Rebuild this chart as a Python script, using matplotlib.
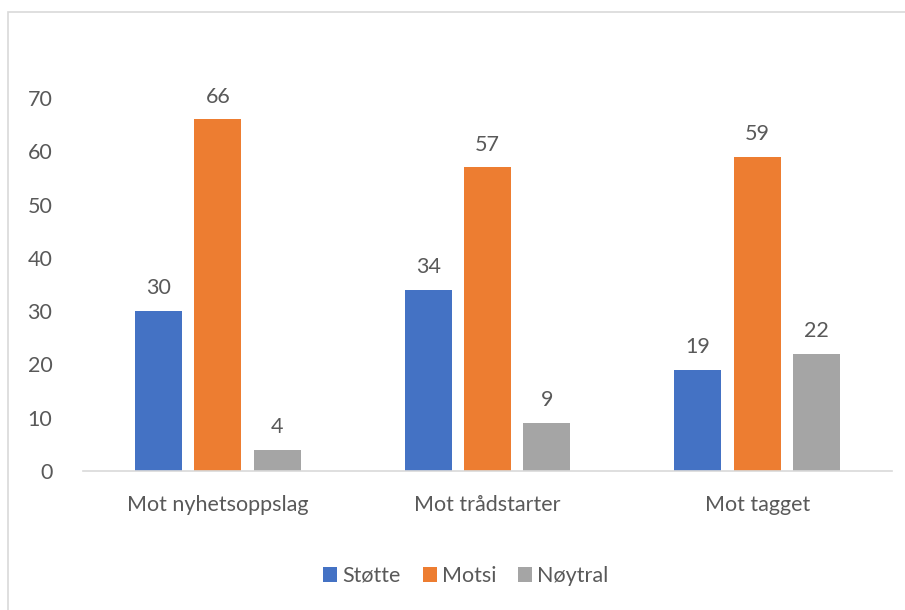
import matplotlib.pyplot as plt
import numpy as np
from matplotlib.patches import Rectangle

categories = ['Mot nyhetsoppslag', 'Mot trådstarter', 'Mot tagget']
series = ['Støtte', 'Motsi', 'Nøytral']
stotte = [30, 34, 19]
motsi = [66, 57, 59]
noytral = [4, 9, 22]
colors = ['#4472C4', '#ED7D31', '#A5A5A5']

plt.rcParams['font.family'] = ['Lato', 'DejaVu Sans']
text_color = '#595959'
fs = 15.5

fig = plt.figure(figsize=(9.05, 6.1), dpi=100)
ax = fig.add_axes([0.0917, 0.2279, 0.8939, 0.6114])

# chart frame
fig.patches.append(Rectangle((8 / 905, -0.1), 1.2, 1 - 12 / 610 + 0.1,
                             transform=fig.transFigure, fill=False,
                             edgecolor='#d9d9d9', linewidth=1.2))

x = np.arange(len(categories))
width = 0.174
step = 0.22
for i, (name, vals) in enumerate(zip(series, [stotte, motsi, noytral])):
    bars = ax.bar(x + (i - 1) * step, vals, width, color=colors[i], label=name)
    for b, v in zip(bars, vals):
        ax.text(b.get_x() + b.get_width() / 2, v + 2.4, str(v), ha='center',
                va='bottom', fontsize=fs, color=text_color, clip_on=False)

ax.set_xlim(-0.5, 2.5)
ax.set_ylim(0, 70)
ax.set_yticks(range(0, 71, 10))
ax.set_xticks(x)
ax.set_xticklabels(categories)
ax.tick_params(axis='both', length=0, labelsize=fs, labelcolor=text_color)
ax.tick_params(axis='y', pad=22)
ax.tick_params(axis='x', pad=17)

for s in ['top', 'right', 'left']:
    ax.spines[s].set_visible(False)
ax.spines['bottom'].set_color('#d9d9d9')
ax.spines['bottom'].set_linewidth(1.2)

leg = fig.legend(loc='center', bbox_to_anchor=(466 / 905, 1 - 576 / 610), ncol=3,
                 frameon=False, fontsize=fs, handlelength=0.65, handleheight=0.65,
                 handletextpad=0.25, columnspacing=1.0)
for t in leg.get_texts():
    t.set_color(text_color)

fig.savefig('out.png', dpi=100)
